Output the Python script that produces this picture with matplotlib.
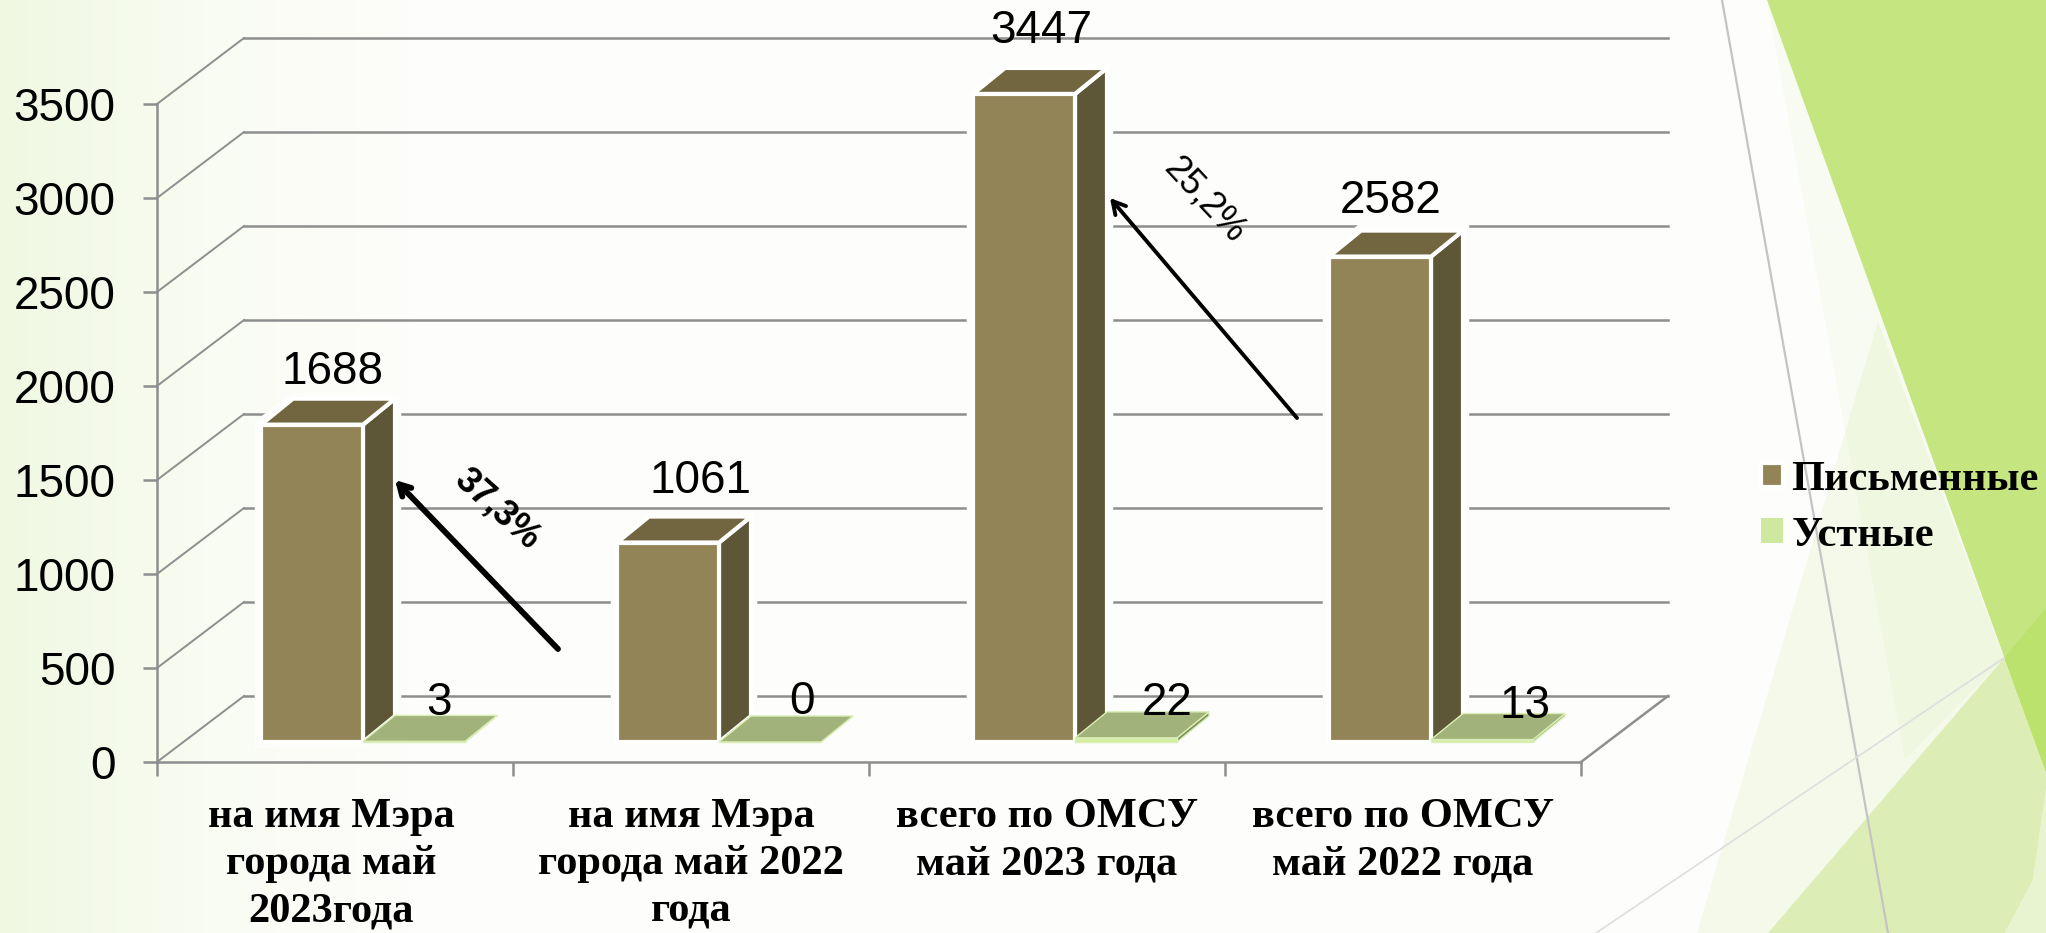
import numpy as np
import matplotlib
matplotlib.use('Agg')
import matplotlib.pyplot as plt
from matplotlib.colors import LinearSegmentedColormap
from matplotlib.patches import Patch, Polygon
from matplotlib.transforms import Affine2D

categories = ['на имя Мэра\nгорода май\n2023года', 'на имя Мэра\nгорода май 2022\nгода',
              'всего по ОМСУ\nмай 2023 года', 'всего по ОМСУ\nмай 2022 года']
written = [1688, 1061, 3447, 2582]
oral = [3, 0, 22, 13]
series_names = ['Письменные', 'Устные']
y_ticks = [0, 500, 1000, 1500, 2000, 2500, 3000, 3500]

NUM_FONT = ['Liberation Sans', 'DejaVu Sans']
NUM_SIZE = 33
GRID = '#8e8e8e'
W, H = 2046, 933

fig = plt.figure(figsize=(W / 100, H / 100), dpi=100)

# slide background, in pixel coordinates
bg = fig.add_axes([0, 0, 1, 1], zorder=0)
bg.axis('off')
grad = LinearSegmentedColormap.from_list('g', ['#f0f8e2', '#f9fcf2', '#fdfdfb', '#fdfdfb'])
gx = np.linspace(0, 1, 400).reshape(1, -1)
bg.imshow(gx, cmap=grad, extent=[0, W, H, 0], aspect='auto', vmin=0, vmax=0.3)
bg.set_xlim(0, W)
bg.set_ylim(H, 0)
bg.add_patch(Polygon([(1767, 0), (1905, 760), (2004, 658)], facecolor='#c4e57f', alpha=0.08, lw=0))
bg.add_patch(Polygon([(1697, 933), (1878, 321), (2004, 658), (1768, 933)], facecolor='#c4e57f', alpha=0.14, lw=0))
bg.add_patch(Polygon([(1767, 0), (2046, 0), (2046, 773)], color='#c4e57f', lw=0))
bg.add_patch(Polygon([(2004, 658), (2046, 608), (2046, 773)], color='#bce26e', lw=0))
bg.add_patch(Polygon([(1768, 933), (2004, 658), (2046, 773), (2046, 790), (2033, 880), (2005, 933)],
                     color='#dceeb5', lw=0))
bg.add_patch(Polygon([(2046, 790), (2033, 880), (2005, 933), (2046, 933)], color='#e8f3cf', lw=0))
bg.plot([1722, 1888], [0, 933], color='#c4c4c4', lw=1.6)
bg.plot([1596, 2004], [933, 658], color='#dedede', lw=1.2)

# chart axes: the front plane of the 3d box
ax = fig.add_axes([157 / W, 1 - 762 / H, (1581 - 157) / W, (762 - 104) / H], zorder=1)
ax.patch.set_alpha(0)
ax.set_xlim(0, 4)
ax.set_ylim(0, 3500)
for s in ['top', 'right']:
    ax.spines[s].set_visible(False)
for s in ['left', 'bottom']:
    ax.spines[s].set_color(GRID)
    ax.spines[s].set_linewidth(1.8)
ax.set_yticks(y_ticks)
ax.set_xticks(range(5))
ax.set_xticklabels([])
ax.set_xticks([0.49, 1.5, 2.5, 3.5], minor=True)
ax.set_xticklabels(categories, minor=True, family='Liberation Serif', weight='bold',
                   fontsize=30.5, linespacing=1.31)
ax.tick_params(axis='x', which='major', length=10, width=1.8, color=GRID)
ax.tick_params(axis='x', which='minor', length=0, pad=26)
ax.tick_params(axis='y', length=10, width=1.8, color=GRID, pad=20)
for lab in ax.get_yticklabels():
    lab.set_family(NUM_FONT)
    lab.set_fontsize(NUM_SIZE)
    lab.set_color('black')

back = Affine2D().translate(87, 66) # back wall offset, px
for v in y_ticks:
    ax.plot([0, 4], [v, v], color=GRID, lw=1.8, transform=ax.transData + back, clip_on=False, zorder=1)
    x0, y0 = ax.transData.transform((0, v))
    ax.plot([x0, x0 + 87], [y0, y0 + 66], color=GRID, lw=1.4, transform=None, clip_on=False, zorder=1)
x0, y0 = ax.transData.transform((4, 0))
ax.plot([x0, x0 + 87], [y0, y0 + 66], color=GRID, lw=1.8, transform=None, clip_on=False, zorder=1)


def draw_bar(x, v, width, front, side, top, edge, lw, z, halo=0):
    # px of the front face, pushed back into the box
    l, b = ax.transData.transform((x, 0)) + (29, 20)
    r, t = ax.transData.transform((x + width, v)) + (29, 20)
    dx, dy = 32, 26
    faces = [([(r, b), (r + dx, b + dy), (r + dx, t + dy), (r, t)], side),
             ([(l, t), (r, t), (r + dx, t + dy), (l + dx, t + dy)], top),
             ([(l, b), (r, b), (r, t), (l, t)], front)]
    if halo:
        # the white outline cuts the grid lines next to the bar
        sil = [(l, b), (r, b), (r + dx, b + dy), (r + dx, t + dy), (l + dx, t + dy), (l, t)]
        ax.add_patch(Polygon(sil, closed=True, facecolor='#fdfdfb', edgecolor='#fdfdfb', lw=halo, transform=None,
                             clip_on=False, zorder=z - 0.5, joinstyle='miter'))
    for pts, col in faces:
        ax.add_patch(Polygon(pts, closed=True, facecolor=col, edgecolor=edge, lw=lw, transform=None,
                             clip_on=False, zorder=z, joinstyle='miter'))


bar_w = 0.2865
start = 0.2107
for i in range(4):
    draw_bar(i + start, written[i], bar_w, '#928456', '#5e5737', '#716640', 'white', 3, 3, halo=9)
for i in range(4):
    draw_bar(i + start + bar_w, oral[i], bar_w, '#d3efa0', '#7d8f58', '#a2b27b', '#d8eeb4', 1, 3.2)

written_off = [(49, 73), (61, 82), (46, 83), (40, 76)]
oral_off = [(54, 58), (61, 60), (70, 55), (72, 54)]
for i in range(4):
    ax.annotate(str(written[i]), (i + start + bar_w / 2, written[i]), xytext=written_off[i],
                textcoords='offset pixels', ha='center', va='center', family=NUM_FONT, fontsize=NUM_SIZE,
                annotation_clip=False, zorder=5)
    ax.annotate(str(oral[i]), (i + start + 1.5 * bar_w, oral[i]), xytext=oral_off[i],
                textcoords='offset pixels', ha='center', va='center', family=NUM_FONT, fontsize=NUM_SIZE,
                annotation_clip=False, zorder=5)

# overlay for the hand drawn arrows
top = fig.add_axes([0, 0, 1, 1], zorder=2)
top.set_xlim(0, W)
top.set_ylim(H, 0)
top.axis('off')
top.annotate('', xy=(395, 480), xytext=(558, 649),
             arrowprops=dict(arrowstyle='->,head_length=0.8,head_width=0.45', color='black', lw=4.2, shrinkA=0, shrinkB=0))
top.annotate('', xy=(1110, 198), xytext=(1297, 418),
             arrowprops=dict(arrowstyle='->,head_length=0.9,head_width=0.5', color='black', lw=2.8, shrinkA=0, shrinkB=0))
top.text(497, 509, '37,3%', rotation=-42, ha='center', va='center', family=NUM_FONT, fontsize=26, weight='bold')
top.text(1204, 200, '25,2%', rotation=-47, ha='center', va='center', family=NUM_FONT, fontsize=26)

handles = [Patch(facecolor='#928456', edgecolor='white', lw=3), Patch(facecolor='#cfe8a0', edgecolor='none')]
fig.legend(handles, series_names, loc='upper left', bbox_to_anchor=(1761 / W, 1 - 461 / H), frameon=False,
           prop={'family': 'Liberation Serif', 'weight': 'bold', 'size': 30.5},
           handlelength=0.52, handleheight=0.52, handletextpad=0.2, labelspacing=0.42,
           borderpad=0, borderaxespad=0).set_zorder(3)

fig.savefig('out.png', dpi=100)
